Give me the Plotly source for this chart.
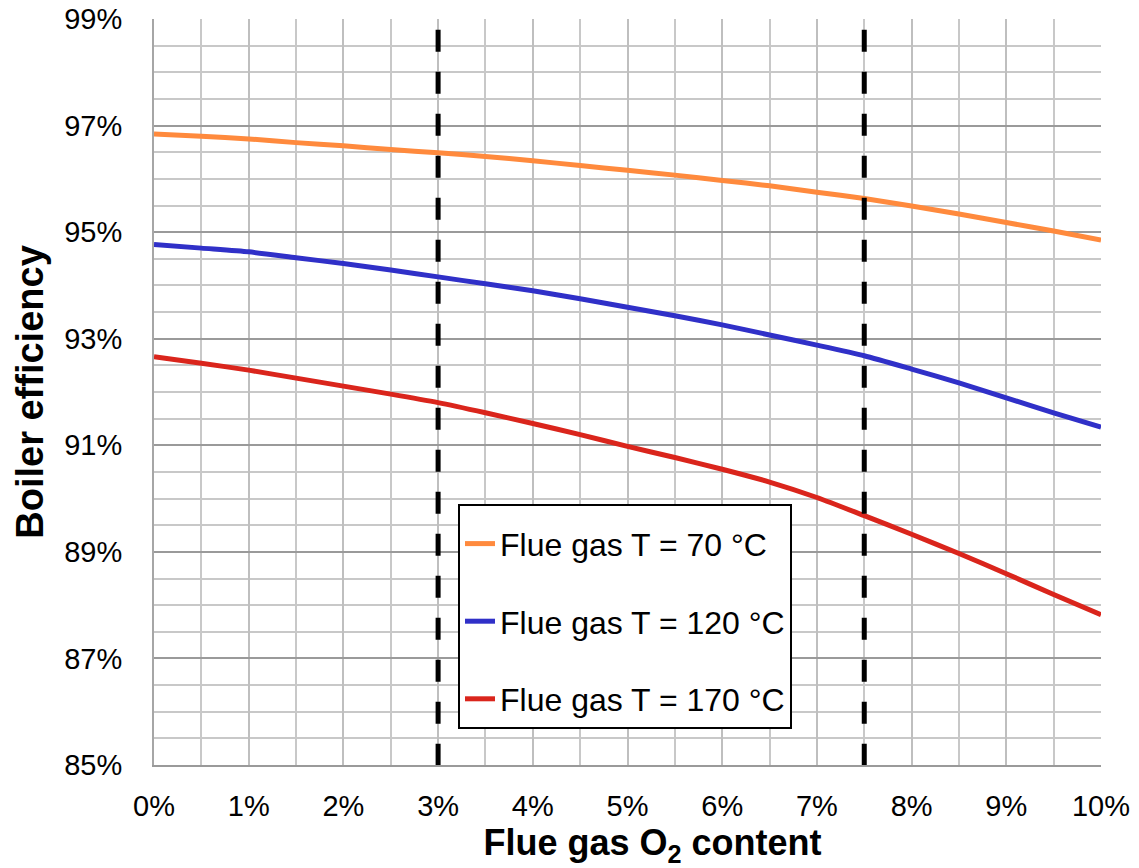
import plotly.graph_objects as go

# ---- data ----
o2_content = [0, 0.5, 1, 1.5, 2, 2.5, 3, 3.5, 4, 4.5, 5, 5.5, 6, 6.5, 7, 7.5, 8, 8.5, 9, 9.5, 10]
eff_70 = [96.84, 96.80, 96.75, 96.68, 96.62, 96.55, 96.49, 96.42, 96.34, 96.25, 96.16,
          96.07, 95.97, 95.87, 95.75, 95.63, 95.49, 95.34, 95.18, 95.02, 94.85]
eff_120 = [94.77, 94.70, 94.63, 94.52, 94.41, 94.29, 94.16, 94.03, 93.90, 93.75, 93.59,
           93.43, 93.26, 93.07, 92.88, 92.68, 92.43, 92.17, 91.89, 91.61, 91.34]
eff_170 = [92.66, 92.54, 92.41, 92.26, 92.11, 91.96, 91.80, 91.61, 91.41, 91.20, 90.98,
           90.77, 90.55, 90.31, 90.02, 89.68, 89.33, 88.97, 88.59, 88.20, 87.82]
series_names = ["Flue gas T = 70 °C", "Flue gas T = 120 °C", "Flue gas T = 170 °C"]
series_colors = ["#FF8A3D", "#3030C8", "#DA251C"]
marker_lines_x = [3, 7.5]
marker_line_y = [85, 98.8]
x_tickvals = [0, 1, 2, 3, 4, 5, 6, 7, 8, 9, 10]
x_ticktext = ["0%", "1%", "2%", "3%", "4%", "5%", "6%", "7%", "8%", "9%", "10%"]
y_tickvals = [85, 87, 89, 91, 93, 95, 97, 99]
y_ticktext = ["85%", "87%", "89%", "91%", "93%", "95%", "97%", "99%"]

FONT = "Liberation Sans, Arial, sans-serif"

fig = go.Figure()
for name, ys, col in zip(series_names, [eff_70, eff_120, eff_170], series_colors):
    fig.add_trace(go.Scatter(
        x=o2_content, y=ys, mode="lines", name=name, legendgroup=name,
        line=dict(color=col, width=5, shape="spline", smoothing=0.6),
    ))

for xv in marker_lines_x:
    fig.add_trace(go.Scatter(
        x=[xv, xv], y=[marker_line_y[1], marker_line_y[0]], mode="lines",
        line=dict(color="black", width=5, dash="22px,20px"),
        showlegend=False, hoverinfo="skip",
    ))

fig.update_layout(
    width=1139, height=868,
    margin=dict(l=154, r=38, t=19, b=103),
    paper_bgcolor="white", plot_bgcolor="white",
    font=dict(family=FONT, color="black", size=30),
    legend=dict(
        x=0.321, y=0.35, xanchor="left", yanchor="top",
        bgcolor="white", bordercolor="black", borderwidth=2,
        font=dict(size=32, family=FONT, color="black"),
        tracegroupgap=33,
        title=dict(text=" ", font=dict(size=8)),
    ),
    xaxis=dict(
        range=[0, 10], tickvals=x_tickvals, ticktext=x_ticktext,
        showgrid=True, gridcolor="#BFBFBF", gridwidth=2,
        minor=dict(dtick=0.5, showgrid=True, gridcolor="#C8C8C8", gridwidth=2),
        showline=True, linecolor="#9A9A9A", linewidth=2,
        zeroline=False, ticks="", ticklabelstandoff=14, automargin=False,
        tickfont=dict(size=29, family=FONT),
        title=dict(text="<b>&nbsp;&nbsp;&nbsp;&nbsp;&nbsp;Flue gas O<sub>2</sub> content</b>",
                   font=dict(size=36, family=FONT), standoff=32),
    ),
    yaxis=dict(
        range=[85, 99], tickvals=y_tickvals, ticktext=y_ticktext,
        showgrid=True, gridcolor="#9A9A9A", gridwidth=2,
        minor=dict(dtick=0.5, showgrid=True, gridcolor="#C8C8C8", gridwidth=2),
        showline=True, linecolor="#A6A6A6", linewidth=2,
        zeroline=False, ticks="", ticklabelstandoff=24, automargin=False,
        tickfont=dict(size=29, family=FONT),
        title=dict(text="<b>Boiler efficiency</b>",
                   font=dict(size=38, family=FONT), standoff=9),
    ),
)

fig.write_html("out.html")
